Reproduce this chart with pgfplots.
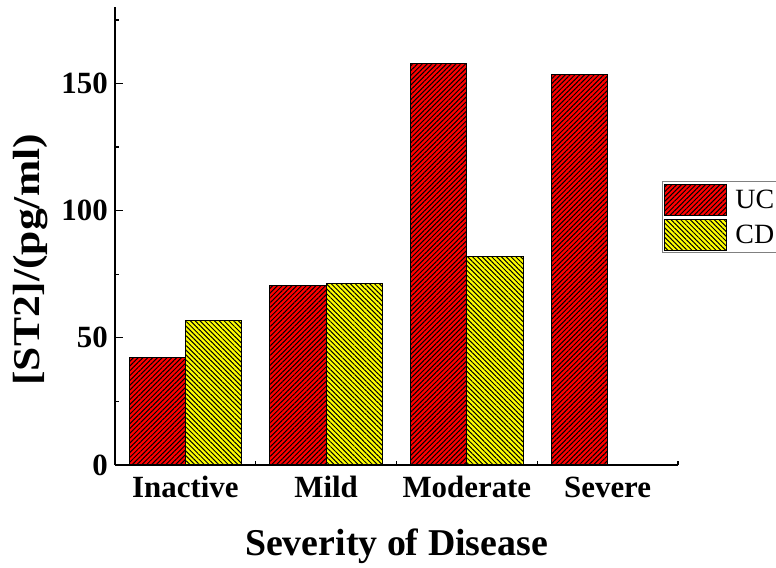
\documentclass[border=0pt]{standalone}
\usepackage{pgfplots}
\pgfplotsset{compat=1.18}
\usepackage{fontspec}
\setmainfont{Liberation Serif}
\usetikzlibrary{patterns.meta}
\definecolor{ucred}{RGB}{255,0,0}
\definecolor{cdyel}{RGB}{255,255,0}
\begin{document}
\begin{tikzpicture}
\begin{axis}[
  at={(115bp,103bp)}, anchor=south west,
  scale only axis, width=563bp, height=457.8bp,
  xmin=-0.5, xmax=3.5, ymin=0, ymax=180,
  axis x line*=bottom, axis y line*=left,
  axis line style={line width=1.2bp, black},
  ybar=0pt, bar width=56.3bp,
  xtick={0,1,2,3},
  xticklabels={Inactive,Mild,Moderate,Severe},
  minor xtick={0.5,1.5,2.5,3.5},
  ytick={0,50,100,150},
  minor ytick={25,75,125,175},
  tick style={line width=1.2bp, black},
  major tick length=8bp, minor tick length=4bp,
  tick align=inside,
  xtick style={draw=none},
  minor x tick style={draw=black, line width=1.2bp},
  /pgf/number format/assume math mode=true,
  ticklabel style={font=\fontsize{31}{35}\selectfont\bfseries},
  yticklabel style={anchor=east, inner sep=0pt, xshift=-7bp},
  xticklabel style={anchor=base, inner sep=0pt, yshift=-33bp},
  xlabel={Severity of Disease},
  xlabel style={font=\fontsize{38}{44}\selectfont\bfseries, at={(axis description cs:0.5,0)}, anchor=base, inner sep=0pt, yshift=-90bp},
  ylabel={[ST2]/(pg/ml)},
  ylabel style={font=\fontsize{38}{44}\selectfont\bfseries, at={(axis description cs:-0.1345,0.448)}, anchor=base, inner sep=0pt, rotate=0, xscale=1.15},
  legend style={at={(axis description cs:0.9716,0.620)}, anchor=north west,
    draw=gray, line width=0.8bp, inner sep=2bp, row sep=3bp,
    font=\fontsize{28}{32}\selectfont,
    nodes={inner sep=2bp},
    /tikz/every odd column/.append style={column sep=6bp}},
  legend cell align=left,
  legend image code/.code={\draw[#1] (0bp,-15.5bp) rectangle (62bp,15.5bp);},
]
\addplot[draw=black, line width=1bp, fill=ucred,
  postaction={pattern={Lines[angle=45,distance=3.4bp,line width=1bp]}}]
  coordinates {(0,42.2) (1,70.7) (2,157.9) (3,153.7)};
\addplot[draw=black, line width=1bp, fill=cdyel,
  postaction={pattern={Lines[angle=-45,distance=3.4bp,line width=1bp]}}]
  coordinates {(0,56.7) (1,71.4) (2,81.8)};
\legend{UC,CD}
\end{axis}
\pgfresetboundingbox
\path[use as bounding box] (0,0) rectangle (776bp,568bp);
\end{tikzpicture}
\end{document}
